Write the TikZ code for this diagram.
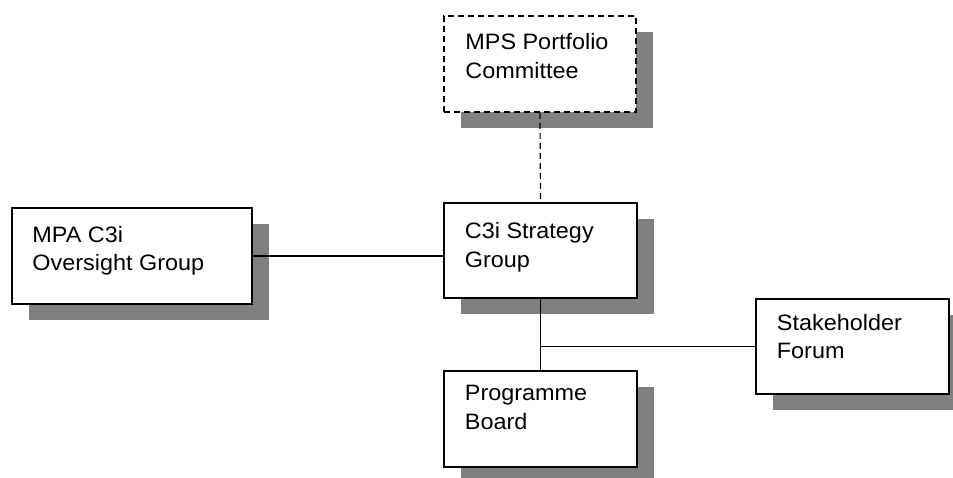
\documentclass[tikz,border=0pt]{standalone}
\usepackage{fontspec}
\setmainfont{Liberation Sans}[FakeStretch=1.05]
\usetikzlibrary{shadows,calc}
\definecolor{shadowgray}{HTML}{808080}
\tikzset{
  box/.style={draw=black, fill=white, line width=1.6pt, rectangle, inner sep=0pt,
    general shadow={fill=shadowgray, draw=none, shadow xshift=17pt, shadow yshift=-16pt}},
  dashbox/.style={box, dash pattern=on 6pt off 4pt},
  txt/.style={anchor=north west, inner sep=0pt, align=left,
    font=\fontsize{22.3pt}{28.5pt}\selectfont},
  conn/.style={draw=black, line width=1.2pt},
  dashconn/.style={conn, dash pattern=on 6pt off 4pt}
}
\begin{document}
\begin{tikzpicture}[x=1pt,y=1pt]
\useasboundingbox (0,0) rectangle (953,477);
\clip (0,0) rectangle (953,477);
% boxes
\node[dashbox, minimum width=192pt, minimum height=96pt] (mps) at (540,413) {};
\node[box, minimum width=240pt, minimum height=96pt] (mpa) at (132,221) {};
\node[box, minimum width=193pt, minimum height=95pt] (csg) at (540.5,226.5) {};
\node[box, minimum width=193pt, minimum height=95pt] (shf) at (852.5,130.5) {};
\node[box, minimum width=193pt, minimum height=96pt] (pgb) at (540.5,58) {};
% texts
\node[txt] (tmps) at ($(mps.north west)+(22,-18)$) {MPS Portfolio\\Committee};
\node[txt] (tmpa) at ($(mpa.north west)+(21,-18.5)$) {MPA C3i\\Oversight Group};
\node[txt] (tcsg) at ($(csg.north west)+(21.5,-20)$) {C3i Strategy\\Group};
\node[txt] (tshf) at ($(shf.north west)+(21.5,-15.5)$) {Stakeholder\\Forum};
\node[txt] (tpgb) at ($(pgb.north west)+(21.5,-15)$) {Programme\\Board};
% connectors
\draw[dashconn] (mps.south) -- (csg.north);
\draw[conn] (mpa.east) -- (mpa.east -| csg.west);
\draw[conn] (csg.south) -- (pgb.north);
\draw[conn] (shf.west) -- (shf.west -| csg.south);
\end{tikzpicture}
\end{document}
